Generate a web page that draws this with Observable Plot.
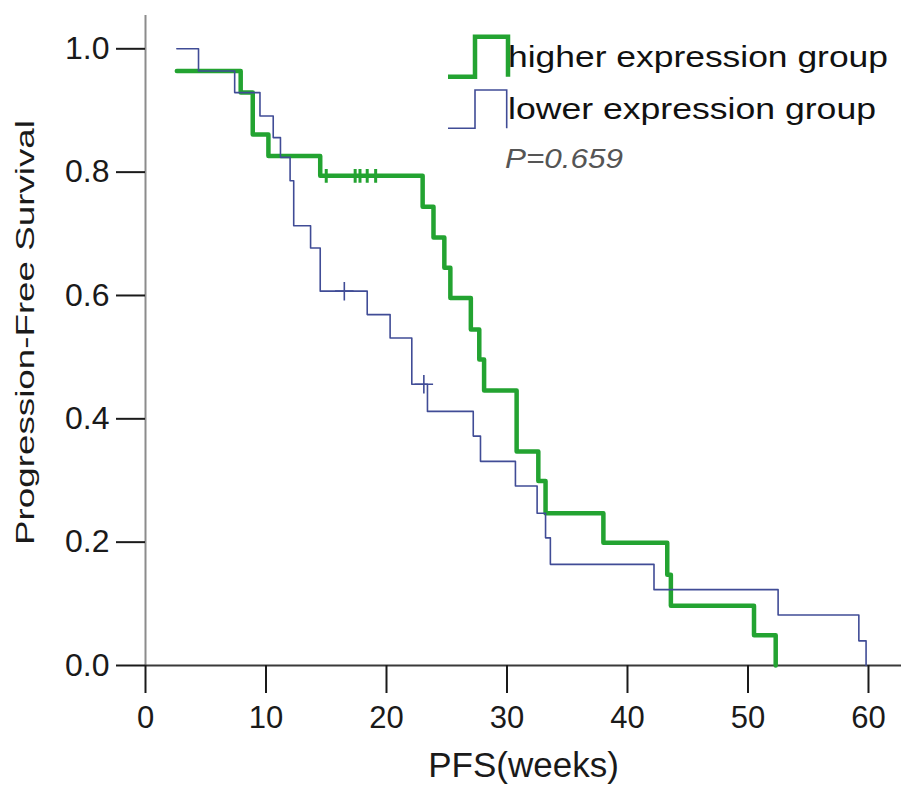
<!DOCTYPE html>
<html><head><meta charset="utf-8">
<script src="https://cdn.jsdelivr.net/npm/d3@7"></script>
<script src="https://cdn.jsdelivr.net/npm/@observablehq/plot@0.6"></script>
<style>html,body{margin:0;padding:0;background:#fff;} #chart{position:relative;width:901px;height:791px;}</style>
</head><body><div id="chart"></div>
<script>
const groups = ["higher expression group", "lower expression group"];
const higherTime = [2.6, 7.9, 8.9, 10.2, 14.5, 23.0, 23.9, 24.8, 25.3, 27.0, 27.7, 28.1, 30.8, 32.6, 33.2, 38.0, 43.3, 43.6, 50.5, 52.3];
const higherSurv = [0.964, 0.929, 0.861, 0.826, 0.794, 0.744, 0.694, 0.645, 0.596, 0.545, 0.496, 0.446, 0.347, 0.299, 0.247, 0.199, 0.147, 0.097, 0.049, 0];
const lowerTime = [2.6, 4.4, 7.4, 9.5, 10.6, 11.2, 12.0, 12.3, 13.7, 14.5, 18.4, 20.3, 22.1, 23.4, 27.2, 27.8, 30.7, 32.5, 33.2, 33.6, 42.2, 52.5, 59.2, 59.8];
const lowerSurv = [1.0, 0.964, 0.929, 0.891, 0.856, 0.824, 0.786, 0.713, 0.677, 0.607, 0.569, 0.531, 0.456, 0.412, 0.372, 0.331, 0.291, 0.247, 0.207, 0.164, 0.123, 0.082, 0.040, 0];
const higherCensorTime = [15.0, 17.4, 17.8, 18.4, 19.1];
const higherCensorSurv = [0.794, 0.794, 0.794, 0.794, 0.794];
const lowerCensorTime = [16.5, 23.1];
const lowerCensorSurv = [0.607, 0.456];
const xTicks = [0, 10, 20, 30, 40, 50, 60];
const yTicks = [0, 0.2, 0.4, 0.6, 0.8, 1.0];
const xLabel = "PFS(weeks)";
const yLabel = "Progression-Free Survival";
const pValueLabel = "P=0.659";

const green = "#23a331";
const blue = "#404c96";

const higherRows = higherTime.map((t, i) => ({group: groups[0], time: t, surv: higherSurv[i]}));
const lowerRows = lowerTime.map((t, i) => ({group: groups[1], time: t, surv: lowerSurv[i]}));
const higherCensor = higherCensorTime.map((t, i) => ({time: t, surv: higherCensorSurv[i]}));
const lowerCensor = lowerCensorTime.map((t, i) => ({time: t, surv: lowerCensorSurv[i]}));

const font = "'Liberation Sans', Arial, sans-serif";

const chart = Plot.plot({
  width: 901,
  height: 791,
  marginLeft: 145,
  marginRight: 0,
  marginTop: 15,
  marginBottom: 126,
  x: {domain: [0, 62.74]},
  y: {domain: [0, 1.054]},
  style: {fontFamily: font, color: "#1a1a1a", background: "white", overflow: "visible"},
  marks: [
    Plot.ruleX([0], {stroke: "#8c8c8c", strokeWidth: 2}),
    Plot.ruleY([0], {stroke: "#3a3a3a", strokeWidth: 2}),
    Plot.axisY(yTicks, {tickSize: 29, tickPadding: 7, tickFormat: d3.format(".1f"), fontSize: 32, strokeWidth: 2, label: null}),
    Plot.axisX(xTicks, {tickSize: 28, tickPadding: 12, fontSize: 31, strokeWidth: 2, label: null}),
    Plot.line(higherRows, {x: "time", y: "surv", curve: "step-after", stroke: green, strokeWidth: 4.5}),
    Plot.dot(higherCensor, {x: "time", y: "surv", symbol: "plus", r: 4.5, stroke: green, strokeWidth: 3}),
    Plot.line(lowerRows, {x: "time", y: "surv", curve: "step-after", stroke: blue, strokeWidth: 1.6}),
    Plot.dot(lowerCensor, {x: "time", y: "surv", symbol: "plus", r: 6, stroke: blue, strokeWidth: 1.6}),
    Plot.text([xLabel], {frameAnchor: "bottom", dy: 111, fontSize: 35, fill: "#1a1a1a"}),
    Plot.text([yLabel], {frameAnchor: "left", textAnchor: "middle", dx: -120, dy: -8, rotate: -90, fontSize: 26, fill: "#1a1a1a"})
  ]
});

const svg = d3.select(chart);
svg.selectAll("text").filter(function() { return this.textContent === yLabel; })
  .attr("text-anchor", "middle")
  .each(function() {
    const t = this.getAttribute("transform") || "";
    this.setAttribute("transform", t + " scale(1.414,1)");
  });

// legend
const lg = svg.append("g").attr("font-family", font).attr("text-anchor", "start");
lg.append("path").attr("d", "M448,76.7H475V36.7H508V76.7").attr("fill", "none").attr("stroke", green).attr("stroke-width", 4.5);
lg.append("path").attr("d", "M448,128.3H475V90H506.7V128.3").attr("fill", "none").attr("stroke", blue).attr("stroke-width", 1.6);
lg.append("text").attr("x", 508).attr("y", 67).attr("font-size", 30).attr("fill", "#111")
  .attr("textLength", 380).attr("lengthAdjust", "spacingAndGlyphs").text(groups[0]);
lg.append("text").attr("x", 508).attr("y", 118.5).attr("font-size", 30).attr("fill", "#111")
  .attr("textLength", 368).attr("lengthAdjust", "spacingAndGlyphs").text(groups[1]);
lg.append("text").attr("x", 505).attr("y", 168).attr("font-size", 28).attr("font-style", "italic").attr("fill", "#555")
  .attr("textLength", 118).attr("lengthAdjust", "spacingAndGlyphs").text(pValueLabel);

document.getElementById("chart").appendChild(chart);
</script>
</body></html>
